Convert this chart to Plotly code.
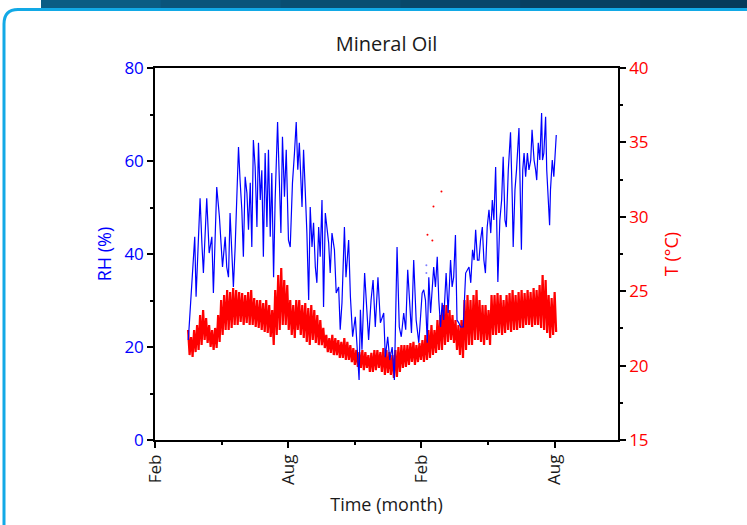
import plotly.graph_objects as go

# ---------------- data ----------------
# Relative humidity: time in months (0 = Feb, 6 = Aug, 12 = Feb, 18 = Aug)
rh_month = [
    1.50, 1.58, 1.70, 1.79, 1.85, 2.03, 2.11, 2.18, 2.33, 2.44, 2.56, 2.63, 2.78, 2.90,
    3.04, 3.16, 3.23, 3.31, 3.38, 3.46, 3.53, 3.61, 3.76, 3.83, 3.91, 3.98, 4.06, 4.14,
    4.21, 4.29, 4.36, 4.43, 4.51, 4.59, 4.66, 4.74, 4.81, 4.88, 4.96, 5.04, 5.11, 5.19,
    5.26, 5.34, 5.41, 5.52, 5.59, 5.67, 5.74, 5.83, 5.91, 6.01, 6.09, 6.19, 6.28, 6.36,
    6.43, 6.50, 6.62, 6.69, 6.77, 6.84, 6.92, 6.99, 7.07, 7.14, 7.22, 7.29, 7.37, 7.44,
    7.52, 7.59, 7.67, 7.74, 7.82, 7.89, 7.97, 8.08, 8.16, 8.27, 8.34, 8.42, 8.53, 8.60,
    8.72, 8.80, 8.90, 9.02, 9.10, 9.19, 9.25, 9.32, 9.44, 9.55, 9.62, 9.73, 9.82, 9.92,
    10.04, 10.15, 10.30, 10.37, 10.48, 10.57, 10.68, 10.78, 10.90, 11.00, 11.09, 11.20,
    11.29, 11.38, 11.47, 11.55, 11.65, 11.76, 11.88, 11.95, 12.03, 12.10, 12.18, 12.26,
    12.33, 12.41, 12.48, 12.55, 12.63, 12.71, 12.78, 12.86, 12.93, 13.00, 13.11, 13.20,
    13.31, 13.38, 13.45, 13.53, 13.60, 13.68, 13.76, 13.88, 13.99, 14.14, 14.22, 14.30,
    14.37, 14.44, 14.52, 14.59, 14.66, 14.74, 14.81, 14.88, 14.96, 15.04, 15.12, 15.19,
    15.26, 15.34, 15.44, 15.53, 15.61, 15.68, 15.76, 15.82, 15.91, 16.01, 16.09, 16.13,
    16.21, 16.28, 16.39, 16.45, 16.50, 16.56, 16.62, 16.69, 16.77, 16.84, 16.92, 16.98,
    17.07, 17.14, 17.19, 17.26, 17.33, 17.41, 17.45, 17.51, 17.59, 17.64, 17.70, 17.77,
    17.81, 17.89, 17.96, 18.00, 18.07,
]
rh_value = [
    21.5, 28.0, 37.2, 43.7, 30.8, 52.0, 42.4, 35.9, 52.0, 40.2, 43.7, 31.6, 54.4, 48.0,
    37.2, 43.7, 37.2, 35.0, 48.8, 38.7, 32.9, 41.5, 63.0, 55.9, 49.5, 39.4, 56.6, 53.1,
    45.2, 55.3, 41.5, 64.5, 58.7, 45.8, 63.9, 51.6, 58.0, 39.4, 61.7, 45.8, 62.4, 43.7,
    57.4, 35.0, 51.6, 68.4, 58.7, 44.5, 65.2, 52.3, 62.4, 43.0, 41.5, 55.3, 61.7, 68.4,
    58.1, 63.9, 50.1, 62.4, 53.1, 44.5, 30.1, 50.1, 41.5, 46.7, 37.2, 33.8, 45.8, 39.4,
    51.6, 28.6, 48.8, 45.8, 42.4, 35.9, 44.5, 40.9, 31.6, 32.9, 23.7, 29.5, 45.8, 35.0,
    43.0, 30.8, 22.2, 26.5, 20.0, 12.9, 28.0, 19.4, 35.9, 28.0, 21.5, 30.1, 34.4, 24.3,
    35.0, 25.2, 27.3, 17.8, 22.2, 17.2, 20.0, 12.9, 41.5, 24.3, 22.2, 27.3,
    23.7, 36.6, 30.1, 23.0, 38.7, 25.8, 20.9, 25.8, 31.6, 32.3, 30.1, 20.9,
    35.0, 27.3, 32.9, 37.2, 32.9, 39.4, 30.1, 24.3, 29.5, 25.8, 35.9, 27.3,
    38.7, 32.9, 35.0, 44.1, 25.8, 25.2, 24.3, 24.3, 35.9, 37.2, 33.8, 40.9,
    38.7, 45.2, 38.7, 38.7, 43.0, 45.8, 38.7, 35.9, 45.8, 49.5, 44.5, 51.6,
    47.3, 58.7, 34.0, 47.3, 51.6, 60.9, 47.3, 45.8, 58.1, 66.2, 51.6, 41.5,
    53.8, 58.1, 67.1, 53.8, 40.9, 58.1, 61.7, 56.6, 61.7, 58.1, 60.2, 66.7,
    60.2, 58.1, 55.9, 63.9, 60.2, 70.3, 60.2, 61.7, 69.5, 58.1, 53.1, 46.2,
    53.8, 60.2, 56.6, 61.3, 65.6,
]
rh_outlier_month = [12.22, 12.22]
rh_outlier_value = [37.6, 35.9]

# Temperature: logger readings, upper and lower value of each sampling interval
temp_start_month = 1.49
temp_step_month = 0.1353
temp_high = [
    22.39, 21.92, 22.39, 22.73, 23.40, 23.74, 23.20, 22.73, 22.39, 22.53, 23.40, 24.41,
    24.74, 25.08, 24.95, 25.22, 25.08, 24.95, 24.88, 24.74, 24.95, 25.08, 24.54, 24.41,
    24.41, 24.21, 24.41, 24.07, 23.74, 25.08, 26.09, 26.56, 25.75, 25.42, 24.41, 24.07,
    24.41, 24.41, 24.07, 24.21, 23.87, 24.07, 23.74, 23.40, 23.06, 22.53, 22.06, 21.85,
    22.06, 21.85, 21.72, 21.59, 21.85, 21.59, 21.38, 21.18, 21.05, 20.91, 21.05, 20.91,
    20.71, 20.85, 21.05, 21.05, 20.91, 21.18, 21.05, 20.91, 20.71, 21.05, 21.25, 21.38,
    21.38, 21.38, 21.52, 21.59, 21.38, 21.52, 21.72, 22.06, 22.39, 22.73, 22.39, 23.06,
    23.40, 24.07, 24.07, 23.74, 23.40, 23.06, 22.73, 23.06, 24.41, 24.74, 24.41, 24.74,
    25.08, 24.41, 24.07, 24.07, 23.74, 24.74, 24.74, 24.88, 24.74, 24.41, 24.74, 24.88,
    25.08, 24.74, 24.95, 25.08, 24.88, 25.08, 24.95, 25.22, 25.08, 25.42, 26.09, 25.75,
    24.74, 24.54, 24.95,
]
temp_low = [
    20.71, 20.58, 20.91, 21.05, 21.38, 21.72, 21.52, 21.25, 21.05, 21.18, 21.59, 22.06,
    22.39, 22.39, 22.53, 22.73, 22.73, 22.93, 22.73, 22.86, 22.73, 22.73, 22.59, 22.53,
    22.39, 22.26, 22.19, 21.92, 21.38, 22.06, 22.39, 22.73, 22.73, 22.39, 22.06, 21.85,
    22.39, 22.06, 21.85, 21.59, 21.38, 21.72, 21.52, 21.38, 21.38, 21.18, 20.91, 20.85,
    20.71, 20.71, 20.51, 20.51, 20.38, 20.38, 20.24, 20.04, 19.91, 19.84, 19.70, 19.84,
    19.57, 19.57, 19.70, 19.84, 19.57, 19.37, 19.50, 19.37, 19.17, 19.23, 19.57, 19.84,
    19.91, 20.04, 20.24, 20.04, 20.24, 20.38, 20.24, 20.38, 20.51, 20.71, 20.85, 21.05,
    21.05, 21.38, 21.59, 21.72, 21.52, 21.05, 20.71, 20.51, 21.05, 21.38, 21.38, 21.72,
    21.72, 21.59, 21.38, 21.72, 21.38, 22.06, 22.06, 22.19, 22.06, 22.19, 22.39, 22.26,
    22.39, 22.39, 22.53, 22.53, 22.73, 22.73, 22.59, 22.73, 22.73, 22.53, 22.39, 22.19,
    21.85, 22.06, 22.26,
]
temp_outlier_month = [12.27, 12.49, 12.54, 12.90]
temp_outlier_value = [28.8, 28.4, 30.7, 31.7]

month_tick_values = [0, 6, 12, 18]
month_tick_labels = ["Feb", "Aug", "Feb", "Aug"]

# ---------------- build temperature trace (alternating high / low readings) ----------------
n = min(len(temp_high), len(temp_low))
t_month, t_value = [], []
for k in range(n):
    base = temp_start_month + k * temp_step_month
    t_month += [base, base + temp_step_month / 2]
    t_value += [temp_high[k], temp_low[k]]

FONT = "Open Sans"
BLUE = "#0000ff"
RED = "#ff0000"

fig = go.Figure()
fig.add_trace(go.Scatter(x=t_month, y=t_value, mode="lines",
                         line=dict(color=RED, width=2.2), yaxis="y", showlegend=False))
fig.add_trace(go.Scatter(x=temp_outlier_month, y=temp_outlier_value, mode="markers",
                         marker=dict(color=RED, size=2), yaxis="y", showlegend=False))
fig.add_trace(go.Scatter(x=rh_month, y=rh_value, mode="lines",
                         line=dict(color=BLUE, width=1.2), yaxis="y2", showlegend=False))
fig.add_trace(go.Scatter(x=rh_outlier_month, y=rh_outlier_value, mode="markers",
                         marker=dict(color="#8080ff", size=2), yaxis="y2", showlegend=False))

# plot area in pixels: x 155..618, y 68..440
L, R, T, B = 155, 618, 68, 440
def px(x):
    return (x - L) / (R - L)
def py(y):
    return (B - y) / (B - T)

shapes = []
# dark header bar with a slight gradient
bar_cols = ["#0b5c84", "#0a557b", "#094e72", "#08476a", "#074062", "#063a5a"]
x_edges = [41 + i * (760 - 41) / len(bar_cols) for i in range(len(bar_cols) + 1)]
for i, c in enumerate(bar_cols):
    shapes.append(dict(type="rect", xref="paper", yref="paper",
                       x0=px(x_edges[i]), x1=px(x_edges[i + 1] + 1), y0=py(8), y1=py(-5),
                       fillcolor=c, line=dict(width=0)))
# cyan rounded frame
path = (f"M {px(4)} {py(540)} L {px(4)} {py(24)} "
        f"Q {px(4)} {py(9.5)} {px(18)} {py(9.5)} L {px(760)} {py(9.5)}")
shapes.append(dict(type="path", xref="paper", yref="paper", path=path,
                   line=dict(color="#12a9e6", width=3)))

axis_common = dict(showline=True, linecolor="black", linewidth=1.5, ticks="outside",
                   tickcolor="black", tickwidth=1.5, ticklen=6, showgrid=False,
                   zeroline=False)

fig.update_layout(
    width=747, height=525,
    margin=dict(l=L, r=747 - R, t=T, b=525 - B),
    paper_bgcolor="white", plot_bgcolor="white",
    font=dict(family=FONT, size=17, color="#1a1a1a"),
    title=dict(text="Mineral Oil", x=(L + R) / 2 / 747, xanchor="center",
               y=1 - 44 / 525, yanchor="middle",
               font=dict(family=FONT, size=20, color="#1a1a1a")),
    xaxis=dict(range=[0, 20.85], tickvals=month_tick_values, ticktext=month_tick_labels,
               tickangle=-90, mirror=True,
               tickfont=dict(family=FONT, size=17, color="#1a1a1a"),
               minor=dict(dtick=3, tick0=0, ticks="outside", ticklen=3,
                          tickcolor="black", tickwidth=1.5),
               title=dict(text="Time (month)", standoff=14,
                          font=dict(family=FONT, size=18, color="#1a1a1a")),
               **axis_common),
    yaxis=dict(range=[15, 40], side="right", tickvals=[15, 20, 25, 30, 35, 40],
               tickfont=dict(family=FONT, size=17, color=RED),
               minor=dict(dtick=2.5, tick0=15, ticks="outside", ticklen=3,
                          tickcolor="black", tickwidth=1.5),
               title=dict(text="T (°C)", standoff=18,
                          font=dict(family=FONT, size=18, color=RED)),
               **axis_common),
    yaxis2=dict(range=[0, 80], side="left", overlaying="y", anchor="x",
                tickvals=[0, 20, 40, 60, 80],
                tickfont=dict(family=FONT, size=17, color=BLUE),
                minor=dict(dtick=10, tick0=0, ticks="outside", ticklen=3,
                           tickcolor="black", tickwidth=1.5),
                title=dict(text="RH (%)", standoff=8,
                           font=dict(family=FONT, size=18, color=BLUE)),
                **axis_common),
    shapes=shapes,
)

fig.write_html("out.html", config={"displayModeBar": False},
               post_script="document.body.style.margin='0';document.body.style.overflow='hidden';")
